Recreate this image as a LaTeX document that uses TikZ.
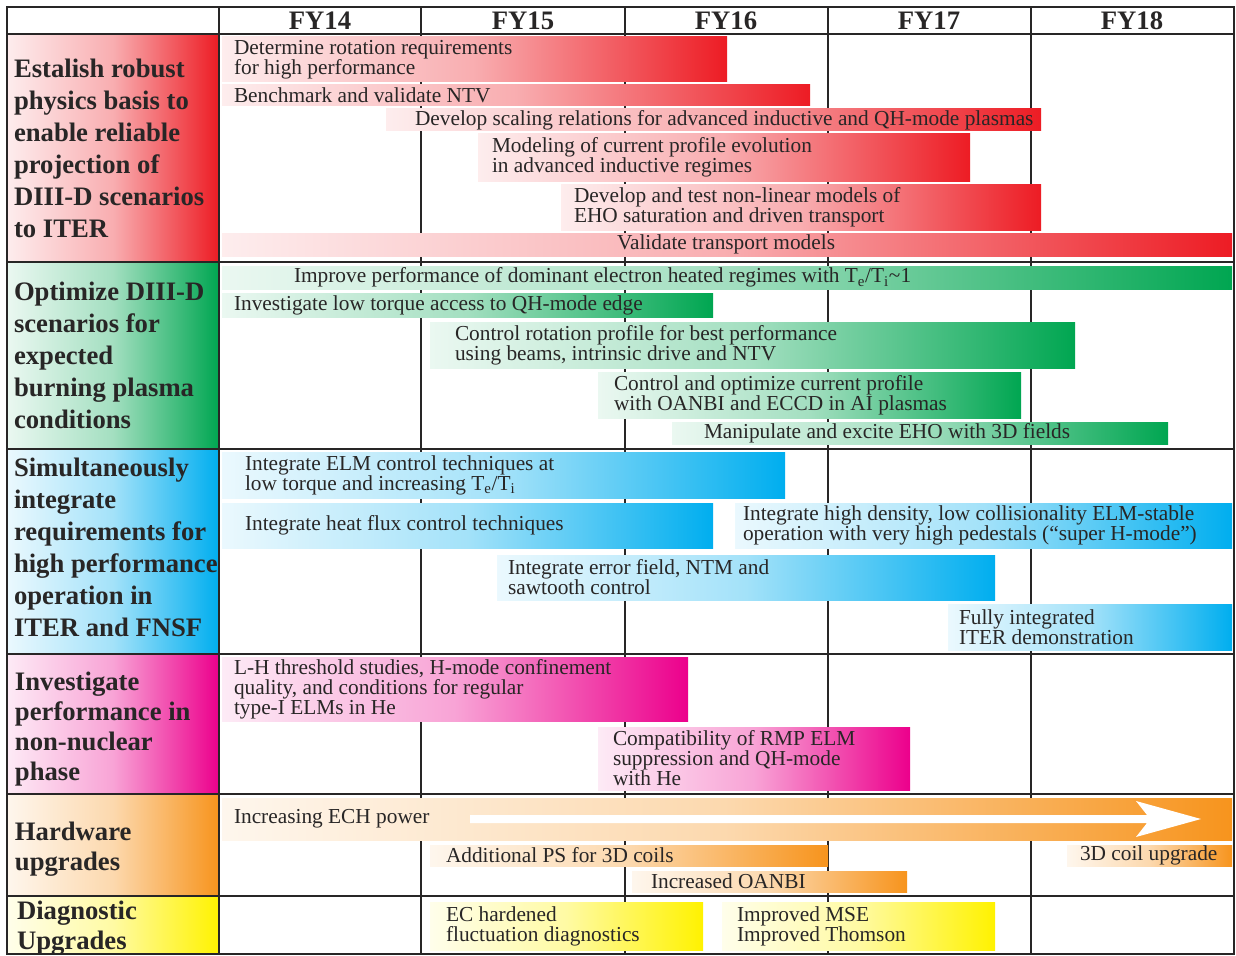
\documentclass[tikz,border=0pt]{standalone}
\usepackage{fontspec}
\setmainfont{Liberation Serif}
\usetikzlibrary{fit}
\definecolor{cred}{RGB}{237,28,36}
\definecolor{cgreen}{RGB}{0,166,81}
\definecolor{cblue}{RGB}{0,174,239}
\definecolor{cpink}{RGB}{236,0,140}
\definecolor{corange}{RGB}{247,148,29}
\definecolor{cyellow}{RGB}{255,242,0}
\definecolor{ink}{RGB}{40,38,38}
\tikzset{
  barfill/.style={left color=#1!8, right color=#1, middle color=#1!36, draw=none},
  bartext/.style={font=\fontsize{16}{15}\selectfont, text=ink, align=left, inner sep=0pt, anchor=west},
  labtext/.style={font=\bfseries\fontsize{20}{24}\selectfont, text=ink, align=left, inner sep=0pt, anchor=west},
  hdr/.style={font=\bfseries\fontsize{20}{24}\selectfont, text=ink, inner sep=0pt},
  gridline/.style={line width=1.5pt, draw=ink},
}
% \gbar[text style]{name}{x1}{y1}{x2}{y2}{colour}{inset}{text}
\newcommand\gbar[9][]{%
  \node[fit={(#3,#4) (#5,#6)}, inner sep=0pt, barfill=#7] (#2) {};
  \node[bartext,#1] (#2t) at ([xshift=#8*0.75pt]#2.west) {#9};
}
% \lcell[text style]{name}{y1}{y2}{colour}{inset}{text}
\newcommand\lcell[7][]{%
  \node[fit={(7,#3) (219,#4)}, inner sep=0pt, barfill=#5] (#2) {};
  \node[labtext,#1] (#2t) at ([xshift=#6*0.75pt]#2.west) {#7};
}
\begin{document}
\begin{tikzpicture}[x=0.75pt, y=-0.75pt]
\useasboundingbox (0,0) rectangle (1236,956);
\fill[white] (0,0) rectangle (1236,956);

% label cells
\lcell{L1}{34}{262}{cred}{7}{Estalish robust\\physics basis to\\enable reliable\\projection of\\DIII-D scenarios\\to ITER}
\lcell{L2}{262}{449}{cgreen}{7}{Optimize DIII-D\\scenarios for\\expected\\burning plasma\\conditions}
\lcell[yshift=3pt]{L3}{449}{654}{cblue}{7}{Simultaneously\\integrate\\requirements for\\high performance\\operation in\\ITER and FNSF}
\lcell[font=\bfseries\fontsize{20}{22.5}\selectfont, yshift=-3.75pt]{L4}{654}{794}{cpink}{8}{Investigate\\performance in\\non-nuclear\\phase}
\lcell[font=\bfseries\fontsize{20}{22.5}\selectfont, yshift=-3pt]{L5}{794}{896}{corange}{8}{Hardware\\upgrades}
\lcell[font=\bfseries\fontsize{20}{22.5}\selectfont, yshift=-2.25pt]{L6}{896}{954}{cyellow}{10}{Diagnostic\\Upgrades}

% column lines (behind bars)
\foreach \x in {219,421,625,828,1031} \draw[gridline] (\x,7) -- (\x,954);

% header
\node[hdr] (h14) at (320,21) {FY14};
\node[hdr] (h15) at (523,21) {FY15};
\node[hdr] (h16) at (726,21) {FY16};
\node[hdr] (h17) at (929,21) {FY17};
\node[hdr] (h18) at (1132,21) {FY18};

% red row
\gbar{R1}{222}{37}{727}{82}{cred}{12}{Determine rotation requirements\\for high performance}
\gbar{R2}{222}{85}{810}{106}{cred}{12}{Benchmark and validate NTV}
\gbar{R3}{386}{109}{1041}{131}{cred}{29}{Develop scaling relations for advanced inductive and QH-mode plasmas}
\gbar{R4}{478}{134}{970}{181}{cred}{14}{Modeling of current profile evolution\\in advanced inductive regimes}
\gbar{R5}{561}{184}{1041}{230}{cred}{13}{Develop and test non-linear models of\\EHO saturation and driven transport}
\gbar{R6}{222}{233}{1232}{256}{cred}{395}{Validate transport models}

% green row
\gbar{G1}{222}{266}{1232}{289}{cgreen}{72}{Improve performance of dominant electron heated regimes with T\textsubscript{e}/T\textsubscript{i}\textasciitilde1}
\gbar{G2}{222}{293}{713}{317}{cgreen}{12}{Investigate low torque access to QH-mode edge}
\gbar{G3}{430}{322}{1075}{368}{cgreen}{25}{Control rotation profile for best performance\\using beams, intrinsic drive and NTV}
\gbar{G4}{598}{372}{1021}{418}{cgreen}{16}{Control and optimize current profile\\with OANBI and ECCD in AI plasmas}
\gbar{G5}{672}{422}{1168}{444}{cgreen}{32}{Manipulate and excite EHO with 3D fields}

% blue row
\gbar{B1}{222}{452}{785}{498}{cblue}{23}{Integrate ELM control techniques at\\low torque and increasing T\textsubscript{e}/T\textsubscript{i}}
\gbar{B2}{222}{503}{713}{548}{cblue}{23}{Integrate heat flux control techniques}
\gbar{B3}{735}{503}{1232}{548}{cblue}{8}{Integrate high density, low collisionality ELM-stable\\operation with very high pedestals (“super H-mode”)}
\gbar{B4}{497}{555}{995}{600}{cblue}{11}{Integrate error field, NTM and\\sawtooth control}
\gbar{B5}{948}{604}{1232}{650}{cblue}{11}{Fully integrated\\ITER demonstration}

% pink row
\gbar{P1}{222}{657}{688}{721}{cpink}{12}{L-H threshold studies, H-mode confinement\\quality, and conditions for regular\\type-I ELMs in He}
\gbar{P2}{598}{727}{910}{790}{cpink}{15}{Compatibility of RMP ELM\\suppression and QH-mode\\with He}

% orange row
\gbar{O1}{222}{798}{1232}{840}{corange}{12}{Increasing ECH power}
\fill[white] (470,815) -- (1147,815) -- (1136,801) -- (1201,819) -- (1136,837) -- (1147,823) -- (470,823) -- cycle;
\gbar{O2}{430}{845}{828}{866}{corange}{16}{Additional PS for 3D coils}
\gbar{O3}{1067}{845}{1232}{866}{corange}{13}{3D coil upgrade}
\gbar{O4}{632}{871}{907}{892}{corange}{19}{Increased OANBI}

% yellow row
\gbar{Y1}{430}{902}{703}{950}{cyellow}{16}{EC hardened\\fluctuation diagnostics}
\gbar{Y2}{722}{902}{995}{950}{cyellow}{15}{Improved MSE\\Improved Thomson}

% row lines and frame
\foreach \y in {34,262,449,654,794,896} \draw[gridline] (7,\y) -- (1234,\y);
\draw[gridline] (219,7) -- (219,954);
\draw[gridline] (7,7) rectangle (1234,954);
\end{tikzpicture}
\end{document}
